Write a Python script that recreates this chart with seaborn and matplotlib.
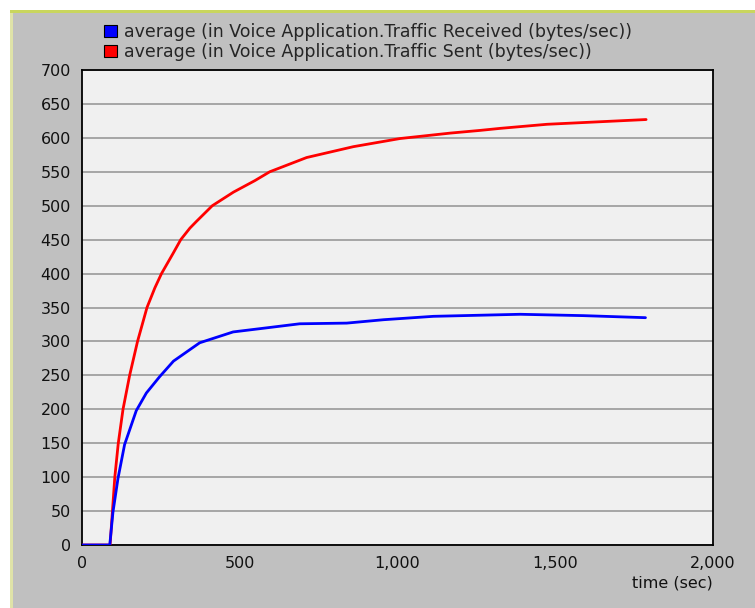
import matplotlib
matplotlib.use("Agg")
import matplotlib.pyplot as plt
from matplotlib.patches import Patch, Rectangle
import seaborn as sns
import pandas as pd

# ---- data ----
sent_time = [0, 89, 104, 115, 130, 151, 176, 206, 231, 252, 289, 313, 342, 363, 413,
             480, 548, 595, 712, 860, 1008, 1167, 1262, 1326, 1474, 1788]
sent_vals = [0, 0, 100, 150, 200, 250, 300, 350, 379, 400, 430, 450, 467, 477, 500,
             520, 537, 550, 571, 587, 599, 607, 611, 614, 620, 627]

recv_time = [0, 88, 98, 114, 135, 172, 204, 246, 290, 373, 479, 585, 690, 839, 956,
             1114, 1389, 1590, 1786]
recv_vals = [0, 0, 48, 98, 148, 198, 224, 248, 271, 298, 314, 320, 326, 327, 332,
             337, 340, 338, 335]

recv_label = "average (in Voice Application.Traffic Received (bytes/sec))"
sent_label = "average (in Voice Application.Traffic Sent (bytes/sec))"

x_ticks = [0, 500, 1000, 1500, 2000]
x_tick_labels = ["0", "500", "1,000", "1,500", "2,000"]
y_ticks = list(range(0, 701, 50))

# sent first so that the received (blue) line is drawn on top
df = pd.concat([
    pd.DataFrame({"time": sent_time, "value": sent_vals, "series": sent_label}),
    pd.DataFrame({"time": recv_time, "value": recv_vals, "series": recv_label}),
], ignore_index=True)

sns.set_style("white")
plt.rcParams["font.family"] = ["DejaVu Sans"]

W, H = 755, 608
fig = plt.figure(figsize=(W / 100, H / 100), dpi=100)
fig.patch.set_facecolor("white")

# frame decorations (gray panel with yellow-green border)
fig.add_artist(Rectangle((13 / W, 0), 1 - 13 / W, 1 - 13 / H, transform=fig.transFigure,
                         facecolor="#c0c0c0", edgecolor="none", zorder=0))
fig.add_artist(Rectangle((10 / W, 1 - 13 / H), 1 - 10 / W, 3 / H, transform=fig.transFigure,
                         facecolor="#c9d65e", edgecolor="none", zorder=0))
fig.add_artist(Rectangle((10 / W, 0), 3 / W, 1 - 13 / H, transform=fig.transFigure,
                         facecolor="#dfe3a8", edgecolor="none", zorder=0))

ax = fig.add_axes([82 / W, 1 - 545 / H, (713 - 82) / W, (545 - 70) / H])
ax.set_facecolor("#f0f0f0")

palette = {recv_label: "#0000ff", sent_label: "#ff0000"}
sns.lineplot(data=df, x="time", y="value", hue="series", palette=palette,
             hue_order=[sent_label, recv_label],
             estimator=None, sort=False, linewidth=2.0, ax=ax, legend=False, zorder=3)
for ln in ax.get_lines():
    ln.set_solid_joinstyle("round")
    ln.set_solid_capstyle("round")

ax.set_xlim(0, 2000)
ax.set_ylim(0, 700)
ax.set_xticks(x_ticks)
ax.set_xticklabels(x_tick_labels)
ax.set_yticks(y_ticks)
ax.yaxis.grid(True, color="#a0a0a0", linewidth=1.3)
ax.xaxis.grid(False)
ax.set_axisbelow(True)
for s in ax.spines.values():
    s.set_color("black")
    s.set_linewidth(1.3)
ax.tick_params(axis="both", direction="out", length=5, width=1.0, color="black",
               labelsize=11.5, labelcolor="#111111", pad=3)
ax.tick_params(axis="x", pad=3)
ax.set_ylabel("")
ax.set_xlabel("time (sec)", loc="right", fontsize=11.5, color="#111111", labelpad=3)

handles = [Patch(facecolor="#0000ff", edgecolor="black", linewidth=0.8),
           Patch(facecolor="#ff0000", edgecolor="black", linewidth=0.8)]
fig.legend(handles, [recv_label, sent_label], loc="upper left",
           bbox_to_anchor=(104 / W, 1 - 23 / H), frameon=False, fontsize=12.5,
           handlelength=0.72, handleheight=0.72, handletextpad=0.45,
           labelspacing=0.12, borderaxespad=0, borderpad=0)

fig.savefig("out.png", dpi=100, facecolor=fig.get_facecolor())
